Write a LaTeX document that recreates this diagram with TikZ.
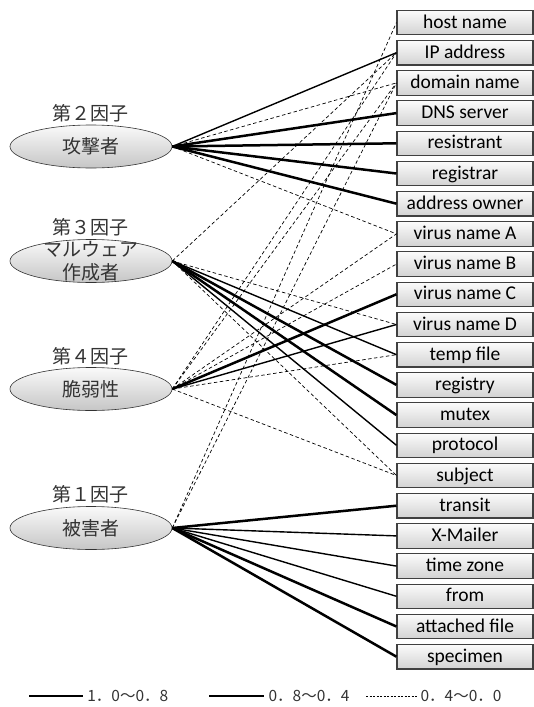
\documentclass[tikz,border=0pt]{standalone}
\usepackage{fontspec}
\setmainfont{Carlito}
\newfontfamily\jpfont{Noto Sans CJK JP}
\usepackage{tikz}
\usetikzlibrary{shapes.geometric}

\tikzset{
  factor/.style={ellipse, draw=black!80, line width=0.6pt, top color=gray!4, bottom color=gray!45,
    minimum width=162pt, minimum height=43pt, inner sep=0pt},
  factorname/.style={font=\jpfont\fontsize{19}{23}\selectfont, text=black!80, align=center},
  item/.style={rectangle, draw=black!75, line width=1.1pt, top color=gray!3, bottom color=gray!35,
    minimum width=136pt, minimum height=24.5pt, inner sep=0pt, text height=14pt, text depth=3pt,
    font=\fontsize{19.5}{20}\selectfont},
  strong/.style={line width=2.5pt},
  middle/.style={line width=1.4pt},
  weak/.style={line width=0.7pt, dash pattern=on 3.5pt off 2.5pt},
}

\begin{document}
\begin{tikzpicture}[x=1pt, y=-1pt]
\useasboundingbox (0,0) rectangle (534,707);

\node[factorname] (t2) at (90,113) {第２因子};
\node[factorname] (t3) at (90,227) {第３因子};
\node[factorname] (t4) at (90,356) {第４因子};
\node[factorname] (t1) at (90,494.5) {第１因子};
\node[factor, label={[factorname]center:攻撃者}] (f2) at (91,146.5) {};
\node[factor, label={[factorname]center:マルウェア\\作成者}] (f3) at (91,261) {};
\node[factor, label={[factorname]center:脆弱性}] (f4) at (91,389) {};
\node[factor, label={[factorname]center:被害者}] (f1) at (91,528) {};

\node[item] (host) at (465,22.5) {host name};
\node[item] (ip) at (465,52.7) {IP address};
\node[item] (domain) at (465,82.9) {domain name};
\node[item] (dns) at (465,113.1) {DNS server};
\node[item] (resist) at (465,143.3) {resistrant};
\node[item] (registrar) at (465,173.5) {registrar};
\node[item] (owner) at (465,203.7) {address owner};
\node[item] (virA) at (465,233.9) {virus name A};
\node[item] (virB) at (465,264.1) {virus name B};
\node[item] (virC) at (465,294.3) {virus name C};
\node[item] (virD) at (465,324.5) {virus name D};
\node[item] (temp) at (465,354.7) {temp file};
\node[item] (registry) at (465,384.9) {registry};
\node[item] (mutex) at (465,415.1) {mutex};
\node[item] (protocol) at (465,445.3) {protocol};
\node[item] (subject) at (465,475.5) {subject};
\node[item] (transit) at (465,505.7) {transit};
\node[item] (xmailer) at (465,535.9) {X-Mailer};
\node[item] (tz) at (465,566.1) {time zone};
\node[item] (from) at (465,596.3) {from};
\node[item] (attached) at (465,626.5) {attached file};
\node[item] (specimen) at (465,656.7) {specimen};

\draw[middle] (f2.east) -- (ip.west);
\draw[weak] (f2.east) -- (domain.west);
\draw[strong] (f2.east) -- (dns.west);
\draw[strong] (f2.east) -- (resist.west);
\draw[strong] (f2.east) -- (registrar.west);
\draw[strong] (f2.east) -- (owner.west);
\draw[weak] (f2.east) -- (virA.west);

\draw[weak] (f3.east) -- (ip.west);
\draw[weak] (f3.east) -- (virD.west);
\draw[middle] (f3.east) -- (temp.west);
\draw[strong] (f3.east) -- (registry.west);
\draw[strong] (f3.east) -- (mutex.west);
\draw[middle] (f3.east) -- (protocol.west);
\draw[weak] (f3.east) -- (subject.west);

\draw[weak] (f4.east) -- (ip.west);
\draw[weak] (f4.east) -- (domain.west);
\draw[weak] (f4.east) -- (virA.west);
\draw[weak] (f4.east) -- (virB.west);
\draw[strong] (f4.east) -- (virC.west);
\draw[middle] (f4.east) -- (virD.west);
\draw[weak] (f4.east) -- (temp.west);
\draw[weak] (f4.east) -- (subject.west);

\draw[weak] (f1.east) -- (host.west);
\draw[weak] (f1.east) -- (domain.west);
\draw[strong] (f1.east) -- (transit.west);
\draw[middle] (f1.east) -- (xmailer.west);
\draw[middle] (f1.east) -- (tz.west);
\draw[middle] (f1.east) -- (from.west);
\draw[strong] (f1.east) -- (attached.west);
\draw[strong] (f1.east) -- (specimen.west);

\coordinate (k1a) at (29,696);
\coordinate (k1b) at (83,696);
\coordinate (k2a) at (209,696);
\coordinate (k2b) at (264,696);
\coordinate (k3a) at (366,696);
\coordinate (k3b) at (417,696);
\draw[line width=2pt] (k1a) -- (k1b) node[anchor=west, font=\jpfont\fontsize{15.5}{15.5}\selectfont, text=black!80]{1．0〜0．8};
\draw[line width=2.6pt] (k2a) -- (k2b) node[anchor=west, font=\jpfont\fontsize{15.5}{15.5}\selectfont, text=black!80]{0．8〜0．4};
\draw[line width=0.6pt, dash pattern=on 2pt off 1.5pt] (k3a) -- (k3b) node[anchor=west, font=\jpfont\fontsize{15.5}{15.5}\selectfont, text=black!80]{0．4〜0．0};

\end{tikzpicture}
\end{document}
